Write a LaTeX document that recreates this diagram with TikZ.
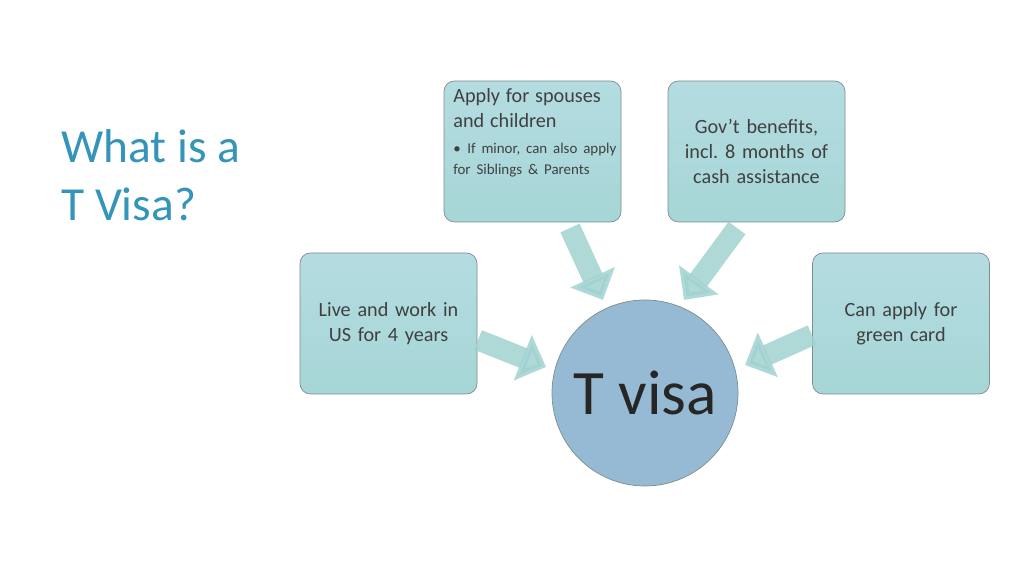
\documentclass[tikz,border=0pt]{standalone}
\usepackage{fontspec}
\setmainfont{Carlito}
\usetikzlibrary{arrows.meta}
\definecolor{titleblue}{RGB}{52,148,186}
\definecolor{boxfill}{RGB}{166,214,214}
\definecolor{boxtop}{RGB}{180,220,225}
\definecolor{boxedge}{RGB}{125,140,140}
\definecolor{circfill}{RGB}{150,186,212}
\definecolor{arrowfill}{RGB}{160,210,208}
\definecolor{textgray}{RGB}{64,64,64}
\tikzset{
  infobox/.style={draw=boxedge, rounded corners=6pt, top color=boxtop, bottom color=boxfill,
    minimum width=3.54cm, minimum height=2.82cm, text=textgray, font=\fontsize{11.5}{14}\selectfont,
    align=center, text width=3.3cm},
  blockarrow/.style={line width=0.42cm, draw=arrowfill, opacity=0.85,
    -{Triangle[width=0.95cm,length=0.5cm]}, shorten >=0pt}
}
\begin{document}
\begin{tikzpicture}
  \useasboundingbox (0,0) rectangle (20.48,11.52);
  % title
  \node[anchor=north west, text=titleblue, align=left, font=\fontsize{27}{33}\selectfont] (title) at (1.1,9.05) {What is a\\T Visa?};
  % boxes
  \node[infobox] (spouse) at (10.65,8.49) {};
  \node[anchor=north west, text=textgray, align=left, text width=3.3cm, inner sep=0pt] (spousetxt) at (9.06,9.75)
    {\fontsize{11.5}{14}\selectfont Apply for spouses\\and children\par
     \vspace{3pt}\fontsize{8.5}{10}\selectfont\hangindent=0.28cm\makebox[0.28cm][l]{\textbullet}If minor, can also apply for Siblings \& Parents};
  \node[infobox] (benefit) at (15.13,8.49) {Gov’t benefits, incl.\ 8 months of cash assistance};
  \node[infobox] (work) at (7.77,5.05) {Live and work in US for 4 years};
  \node[infobox] (green) at (18.02,5.05) {Can apply for green card};
  % arrow ends
  \coordinate (a1) at (11.4,6.96);  \coordinate (b1) at (12.06,5.52);
  \coordinate (a2) at (14.74,6.96); \coordinate (b2) at (13.68,5.52);
  \coordinate (a3) at (9.56,4.72);  \coordinate (b3) at (10.92,4.18);
  \coordinate (a4) at (16.24,4.82); \coordinate (b4) at (14.9,4.22);
  \foreach \s/\e in {a1/b1,a2/b2,a3/b3,a4/b4}
    \draw[blockarrow] (\s) -- (\e);
  % centre
  \node[circle, draw=boxedge, fill=circfill, minimum size=3.72cm, text=black!85,
    font=\fontsize{36}{40}\selectfont] (tvisa) at (12.9,3.66) {T visa};
\end{tikzpicture}
\end{document}
